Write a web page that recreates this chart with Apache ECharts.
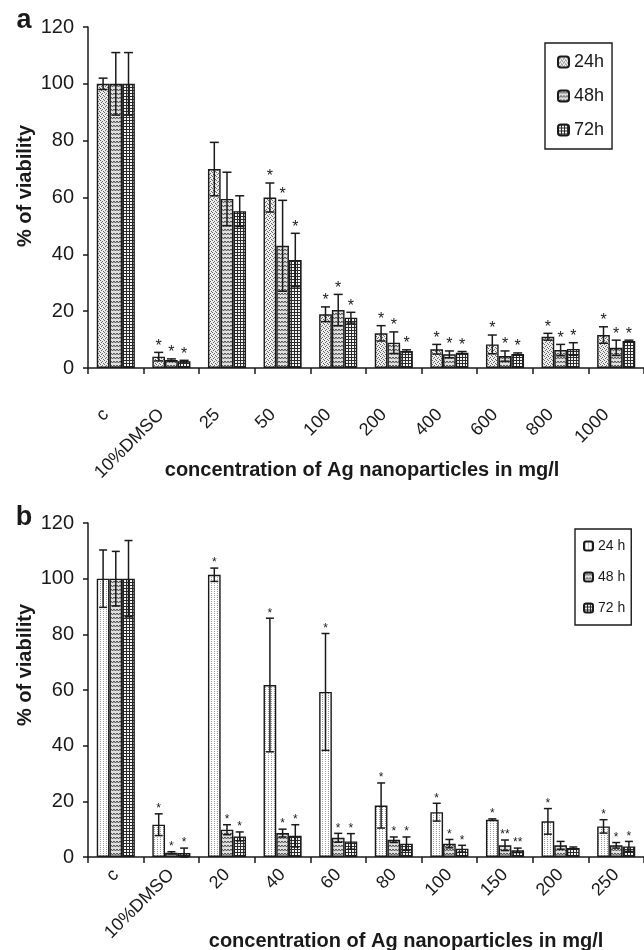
<!DOCTYPE html>
<html>
<head>
<meta charset="utf-8">
<script src="https://cdn.jsdelivr.net/npm/echarts@6/dist/echarts.min.js"></script>
<style>
  html, body { margin: 0; padding: 0; background: #fff; }
  #chart { width: 644px; height: 950px; }
</style>
</head>
<body>
<div id="chart"></div>
<script>
// panel a - categories and values (mean, +/- error, significance marks)
var catsA = ['c', '10%DMSO', '25', '50', '100', '200', '400', '600', '800', '1000'];
var a24 = [100, 4.0, 70.0, 60.0, 18.9, 12.2, 6.6, 8.3, 11.0, 11.6];
var a24Err = [2, 1.5, 9.4, 5.1, 2.6, 2.7, 1.7, 3.3, 1.2, 2.9];
var a48 = [100, 2.8, 59.5, 43.0, 20.4, 8.9, 4.8, 4.2, 6.3, 7.1];
var a48Err = [11, 0.4, 9.4, 16.0, 5.5, 3.8, 1.2, 1.8, 2.0, 2.7];
var a72 = [100, 2.4, 55.2, 38.0, 17.7, 6.0, 5.4, 4.9, 6.7, 9.5];
var a72Err = [11, 0.3, 5.4, 9.4, 1.9, 0.4, 0.4, 0.4, 2.2, 0.3];
var a24Star = ['', '*', '', '*', '*', '*', '*', '*', '*', '*'];
var a48Star = ['', '*', '', '*', '*', '*', '*', '*', '*', '*'];
var a72Star = ['', '*', '', '*', '*', '*', '*', '*', '*', '*'];

// panel b
var catsB = ['c', '10%DMSO', '20', '40', '60', '80', '100', '150', '200', '250'];
var b24 = [100, 11.6, 101.4, 61.8, 59.3, 18.5, 16.1, 13.4, 12.8, 11.0];
var b24Err = [10.3, 3.9, 2.4, 24.0, 21.0, 8.1, 3.2, 0.3, 4.6, 2.4];
var b48 = [100, 1.5, 9.8, 8.6, 6.9, 6.2, 4.8, 4.2, 4.2, 4.2];
var b48Err = [9.8, 0.4, 1.8, 1.4, 1.6, 1.0, 1.5, 1.9, 1.4, 1.0];
var b72 = [100, 1.4, 7.4, 7.6, 5.6, 4.8, 3.0, 2.4, 3.2, 3.8];
var b72Err = [13.7, 1.8, 1.6, 4.0, 2.8, 2.4, 1.2, 0.8, 0.4, 1.8];
var b24Star = ['', '*', '*', '*', '*', '*', '*', '*', '*', '*'];
var b48Star = ['', '*', '*', '*', '*', '*', '*', '**', '', '*'];
var b72Star = ['', '*', '*', '*', '*', '*', '*', '**', '', '*'];

var yTicks = [0, 20, 40, 60, 80, 100, 120];

var FONT = '"Liberation Sans", Arial, sans-serif';
var INK = '#1a1a1a';
var BAR_W = 12.7;

// small canvas patterns to mimic the print hatching
function makePattern(w, h, draw) {
    var c = document.createElement('canvas');
    c.width = w;
    c.height = h;
    var ctx = c.getContext('2d');
    draw(ctx);
    return { image: c, repeat: 'repeat' };
}

var patDots = makePattern(4, 4, function(ctx) {
    ctx.fillStyle = '#ececec';
    ctx.fillRect(0, 0, 4, 4);
    ctx.fillStyle = '#6a6a6a';
    ctx.fillRect(0, 0, 1, 1);
    ctx.fillRect(2, 1, 1, 1);
    ctx.fillRect(1, 2, 1, 1);
    ctx.fillRect(3, 3, 1, 1);
});
var patSparse = makePattern(3, 4, function(ctx) {
    ctx.fillStyle = '#ffffff';
    ctx.fillRect(0, 0, 3, 4);
    ctx.fillStyle = '#9a9a9a';
    ctx.fillRect(1, 1, 1, 1);
    ctx.fillRect(1, 3, 1, 1);
});
var patWave = makePattern(6, 4, function(ctx) {
    ctx.fillStyle = '#e0e0e0';
    ctx.fillRect(0, 0, 6, 4);
    ctx.strokeStyle = '#4a4a4a';
    ctx.lineWidth = 1;
    ctx.beginPath();
    ctx.moveTo(0, 1);
    ctx.lineTo(1.5, 3);
    ctx.lineTo(3, 1);
    ctx.lineTo(4.5, 3);
    ctx.lineTo(6, 1);
    ctx.stroke();
});
var patGrid = makePattern(3, 3, function(ctx) {
    ctx.fillStyle = '#f2f2f2';
    ctx.fillRect(0, 0, 3, 3);
    ctx.fillStyle = '#2a2a2a';
    ctx.fillRect(0, 0, 3, 1);
    ctx.fillRect(0, 0, 1, 3);
});

function barSeries(name, data, pattern, axis) {
    return {
        name: name,
        type: 'bar',
        xAxisIndex: axis,
        yAxisIndex: axis,
        barWidth: BAR_W,
        barGap: '0%',
        itemStyle: { color: pattern, borderColor: INK, borderWidth: 1.4 },
        data: data
    };
}

// error bars + asterisks, one custom series per panel
function errSeries(vals, errs, stars, axis, cap, starSize, starGap) {
    var rows = [];
    for (var k = 0; k < 3; k++) {
        for (var i = 0; i < vals[k].length; i++) {
            rows.push([i, vals[k][i], errs[k][i], k, stars[k][i]]);
        }
    }
    return {
        type: 'custom',
        xAxisIndex: axis,
        yAxisIndex: axis,
        z: 5,
        silent: true,
        clip: false,
        data: rows.map(function(r) { return [r[0], r[1], r[2], r[3]]; }),
        encode: { x: 0, y: 1 },
        renderItem: function(params, api) {
            var r = rows[params.dataIndex];
            var cx = api.coord([r[0], 0])[0] + (r[3] - 1) * BAR_W;
            var yTop = api.coord([r[0], r[1] + r[2]])[1];
            var yBot = api.coord([r[0], Math.max(0, r[1] - r[2])])[1];
            var st = { stroke: INK, lineWidth: 1.5 };
            var kids = [
                { type: 'line', shape: { x1: cx, y1: yTop, x2: cx, y2: yBot }, style: st },
                { type: 'line', shape: { x1: cx - cap / 2, y1: yTop, x2: cx + cap / 2, y2: yTop }, style: st },
                { type: 'line', shape: { x1: cx - cap / 2, y1: yBot, x2: cx + cap / 2, y2: yBot }, style: st }
            ];
            if (r[4]) {
                kids.push({
                    type: 'text',
                    style: {
                        text: r[4], x: cx, y: yTop - starGap,
                        align: 'center', verticalAlign: 'middle',
                        font: starSize + 'px ' + FONT, fill: INK
                    }
                });
            }
            return { type: 'group', children: kids };
        }
    };
}

function xAxisFor(cats, grid, margin, pad) {
    return {
        type: 'category',
        gridIndex: grid,
        data: cats,
        axisLine: { lineStyle: { color: INK, width: 1.5 } },
        axisTick: { show: true, length: 6, lineStyle: { color: INK, width: 1.5 } },
        axisLabel: {
            interval: 0, rotate: 45, margin: margin, padding: [0, pad, 0, 0],
            fontSize: 18, fontFamily: FONT, color: INK
        }
    };
}

function yAxisFor(grid) {
    return {
        type: 'value',
        gridIndex: grid,
        min: yTicks[0],
        max: yTicks[yTicks.length - 1],
        interval: yTicks[1] - yTicks[0],
        axisLine: { show: true, lineStyle: { color: INK, width: 1.5 } },
        axisTick: { show: true, length: 5, lineStyle: { color: INK, width: 1.5 } },
        axisLabel: { margin: 14, fontSize: 20, fontFamily: FONT, color: INK },
        splitLine: { show: false }
    };
}

function txt(x, y, text, size, bold, rot) {
    return {
        type: 'text', x: x, y: y, rotation: rot || 0,
        style: {
            text: text, align: 'center', verticalAlign: 'middle',
            font: (bold ? 'bold ' : '') + size + 'px ' + FONT, fill: INK
        }
    };
}

var chart = echarts.init(document.getElementById('chart'), null, { renderer: 'canvas' });

chart.setOption({
    animation: false,
    backgroundColor: '#fff',
    grid: [
        { left: 88, top: 27, width: 560, height: 341 },
        { left: 88, top: 523, width: 560, height: 334 }
    ],
    xAxis: [xAxisFor(catsA, 0, 34, 14), xAxisFor(catsB, 1, 15, 0)],
    yAxis: [yAxisFor(0), yAxisFor(1)],
    legend: [{
        data: ['24h', '48h', '72h'],
        orient: 'vertical',
        left: 545, top: 43,
        padding: [10, 8, 10, 12],
        itemWidth: 11, itemHeight: 11, itemGap: 16,
        borderColor: INK, borderWidth: 1.4,
        textStyle: { fontSize: 18, fontFamily: FONT, color: INK },
        selectedMode: false
    }, {
        data: ['24 h', '48 h', '72 h'],
        orient: 'vertical',
        left: 575, top: 529,
        padding: [10, 6, 10, 8],
        itemWidth: 9, itemHeight: 9, itemGap: 17,
        borderColor: INK, borderWidth: 1.4,
        textStyle: { fontSize: 14, fontFamily: FONT, color: INK },
        selectedMode: false
    }],
    series: [
        barSeries('24h', a24, patDots, 0),
        barSeries('48h', a48, patWave, 0),
        barSeries('72h', a72, patGrid, 0),
        barSeries('24 h', b24, patSparse, 1),
        barSeries('48 h', b48, patWave, 1),
        barSeries('72 h', b72, patGrid, 1),
        errSeries([a24, a48, a72], [a24Err, a48Err, a72Err], [a24Star, a48Star, a72Star], 0, 9, 16, 6),
        errSeries([b24, b48, b72], [b24Err, b48Err, b72Err], [b24Star, b48Star, b72Star], 1, 8, 12, 5)
    ],
    graphic: [
        txt(24, 21, 'a', 27, true),
        txt(24, 518, 'b', 27, true),
        txt(25, 186, '% of viability', 20, true, Math.PI / 2),
        txt(25, 665, '% of viability', 20, true, Math.PI / 2),
        txt(362, 470, 'concentration of Ag nanoparticles in mg/l', 20, true),
        txt(406, 941, 'concentration of Ag nanoparticles in mg/l', 20, true)
    ]
});
</script>
</body>
</html>
